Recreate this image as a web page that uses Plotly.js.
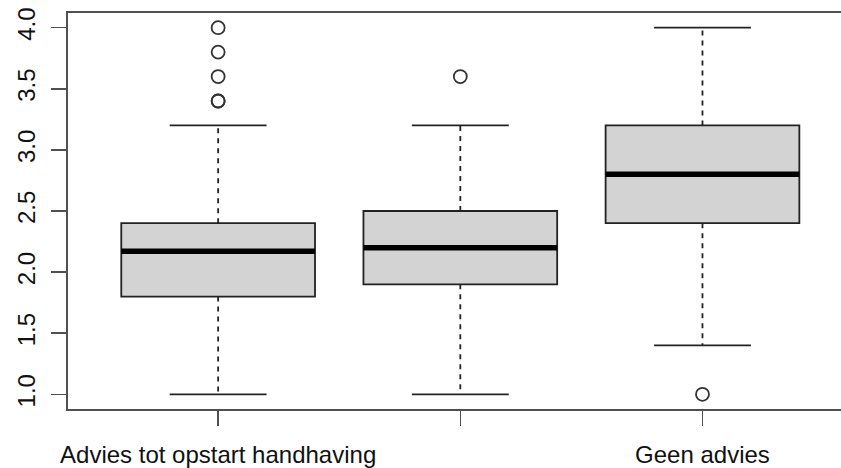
<!DOCTYPE html>
<html>
<head>
<meta charset="utf-8">
<script src="https://cdn.plot.ly/plotly-3.0.1.min.js"></script>
<style>
html,body{margin:0;padding:0;background:#fff;overflow:hidden;}
#chart{width:841px;height:468px;}
</style>
</head>
<body>
<div id="chart"></div>
<script>
// Data
var positions = [1, 2, 3];
var tickLabels = ["Advies tot opstart handhaving", "", "Geen advies"];
var q1 = [1.8, 1.9, 2.4];
var median = [2.17, 2.2, 2.8];
var q3 = [2.4, 2.5, 3.2];
var lowerWhisker = [1.0, 1.0, 1.4];
var upperWhisker = [3.2, 3.2, 4.0];
var outlierGroup = [1, 1, 1, 1, 1, 2, 3];
var outlierValue = [3.4, 3.4, 3.6, 3.8, 4.0, 3.6, 1.0];
var yTicks = [1.0, 1.5, 2.0, 2.5, 3.0, 3.5, 4.0];

var boxWidth = 0.8, capHalf = 0.2, medHalf = 0.4;

var whX = [], whY = [], capX = [], capY = [], medX = [], medY = [];
for (var i = 0; i < positions.length; i++) {
  var p = positions[i];
  whX.push(p, p, null, p, p, null);
  whY.push(q3[i], upperWhisker[i], null, q1[i], lowerWhisker[i], null);
  capX.push(p - capHalf, p + capHalf, null, p - capHalf, p + capHalf, null);
  capY.push(upperWhisker[i], upperWhisker[i], null, lowerWhisker[i], lowerWhisker[i], null);
  medX.push(p - medHalf, p + medHalf, null);
  medY.push(median[i], median[i], null);
}

var traces = [
  {
    type: 'scatter', mode: 'lines', x: whX, y: whY,
    line: {color: '#222', width: 1.8, dash: '5px,5px'}, hoverinfo: 'skip', showlegend: false
  },
  {
    type: 'scatter', mode: 'lines', x: capX, y: capY,
    line: {color: '#222', width: 1.8}, hoverinfo: 'skip', showlegend: false
  },
  {
    type: 'box', x: positions, q1: q1, median: median, q3: q3,
    lowerfence: q1, upperfence: q3, width: boxWidth, whiskerwidth: 0,
    fillcolor: '#D3D3D3', line: {color: '#222', width: 1.8},
    boxpoints: false, showlegend: false, hoverinfo: 'skip'
  },
  {
    type: 'scatter', mode: 'lines', x: medX, y: medY,
    line: {color: '#000', width: 5.5}, hoverinfo: 'skip', showlegend: false
  },
  {
    type: 'scatter', mode: 'markers', x: outlierGroup, y: outlierValue,
    marker: {symbol: 'circle-open', size: 13, color: '#333', line: {width: 1.8}},
    hoverinfo: 'skip', showlegend: false
  }
];

var axisFont = {family: 'Liberation Sans, Arial, sans-serif', size: 24, color: '#111'};

var layout = {
  width: 841, height: 468,
  margin: {l: 68, r: 0, t: 13, b: 59},
  paper_bgcolor: '#fff', plot_bgcolor: '#fff',
  showlegend: false,
  xaxis: {
    range: [0.38, 3.572], tickmode: 'array', tickvals: positions, ticktext: tickLabels,
    showgrid: false, zeroline: false,
    showline: true, mirror: true, linecolor: '#505050', linewidth: 1.8,
    ticks: 'outside', ticklen: 15, tickwidth: 1.5, tickcolor: '#505050',
    tickfont: axisFont, ticklabelstandoff: 8
  },
  yaxis: {
    range: [0.88, 4.12], tickmode: 'array', tickvals: yTicks,
    ticktext: yTicks.map(function (v) { return v.toFixed(1); }),
    tickangle: -90,
    showgrid: false, zeroline: false,
    showline: true, mirror: false, linecolor: '#505050', linewidth: 1.8,
    ticks: 'outside', ticklen: 15, tickwidth: 1.5, tickcolor: '#505050',
    tickfont: axisFont, ticklabelstandoff: 7
  }
};

Plotly.newPlot('chart', traces, layout, {staticPlot: true, displayModeBar: false});
</script>
</body>
</html>
